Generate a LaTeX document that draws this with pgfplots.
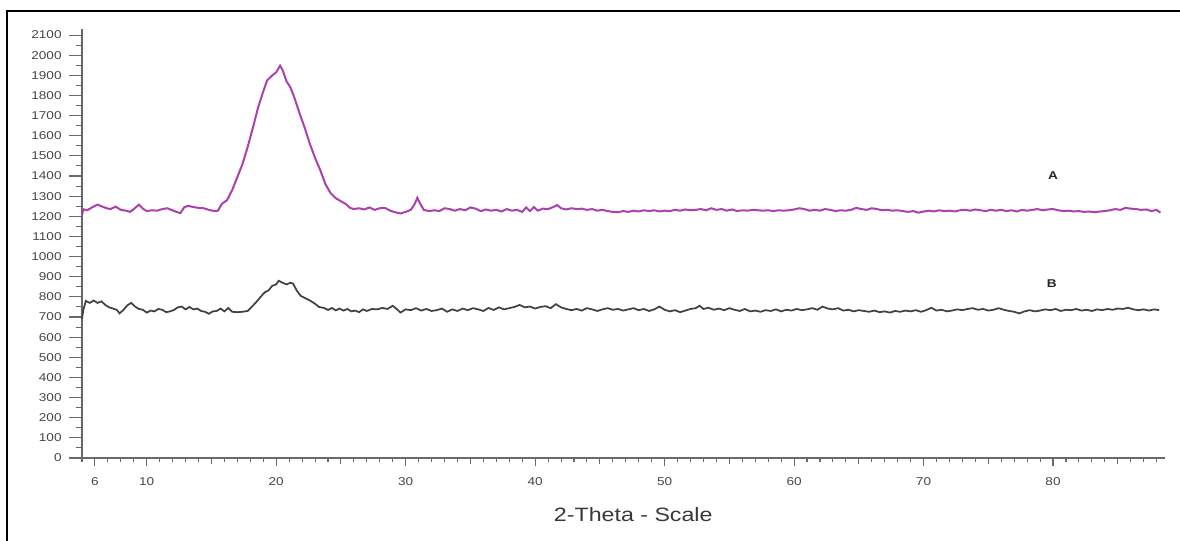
\documentclass[border=0pt]{standalone}
\usepackage{fontspec}
\setmainfont{Liberation Sans}[FakeStretch=1.2]
\usepackage{pgfplots}
\pgfplotsset{compat=1.18}
\definecolor{curveA}{RGB}{170,65,175}
\definecolor{curveB}{RGB}{65,65,65}
\definecolor{axisgray}{RGB}{105,105,105}
\definecolor{labelgray}{RGB}{70,70,70}
\pgfplotsset{
  xrdbase/.style={
    at={(0,0)}, anchor=south west,
    scale only axis, width=812.25pt, height=321.75pt,
    xmin=5, xmax=88.65, ymin=0, ymax=2130,
    axis line style={axisgray, line width=0.9pt},
    every tick/.style={axisgray, line width=0.8pt},
    xtick align=outside, ytick align=outside,
    /pgf/number format/assume math mode=true,
    /pgf/number format/1000 sep={},
    tick label style={font=\fontsize{8.5}{10}\selectfont, text=labelgray},
    clip=false,
  }
}
\begin{document}
\begin{tikzpicture}
% whole image: 1180x540 px at 0.75pt per px, axis origin at px (82,458)
\useasboundingbox (-61.5pt,-61.5pt) rectangle (823.5pt,343.5pt);
\draw[line width=1.5pt] (-56.25pt,-62pt) -- (-56.25pt,335.25pt) -- (824pt,335.25pt);
% y axis with its own tick lengths
\begin{axis}[
  xrdbase,
  axis x line=none, axis y line*=left,
  ytick={0,100,...,2100},
  minor y tick num=1,
  major tick length=9.75pt, minor tick length=4.5pt,
  yticklabel style={xshift=-2pt},
]
\end{axis}
\begin{axis}[
  xrdbase,
  axis x line*=bottom, axis y line=none,
  xtick={6,10,20,30,40,50,60,70,80},
  extra x ticks={15,25,35,45,55,65,75,85},
  extra x tick labels={},
  extra x tick style={major tick length=4.5pt, xtick align=outside},
  minor xtick={5,7,8,9,11,12,13,14,16,17,18,19,21,22,23,24,26,27,28,29,31,32,33,34,36,37,38,39,41,42,43,44,46,47,48,49,51,52,53,54,56,57,58,59,61,62,63,64,66,67,68,69,71,72,73,74,76,77,78,79,81,82,83,84,86,87,88},
  major tick length=6pt, minor tick length=3pt,
  xticklabel style={yshift=-5pt},
  xlabel={2-Theta - Scale},
  xlabel style={at={(axis description cs:0.509,0)}, anchor=center, yshift=-42.75pt,
    font=\fontsize{14.5}{16}\selectfont, text=labelgray!80!black},
]
\addplot[curveA, line width=1.5pt] coordinates {
(5.0,1205)(5.1,1235)(5.4,1230)(5.8,1245)(6.2,1258)(6.5,1250)(6.9,1240)(7.2,1236)(7.6,1248)(8.0,1232)
(8.4,1228)(8.7,1222)(9.0,1236)(9.4,1258)(9.7,1238)(10.0,1226)(10.4,1230)(10.8,1228)(11.2,1236)(11.6,1240)
(11.9,1232)(12.3,1222)(12.6,1216)(12.9,1245)(13.2,1252)(13.6,1246)(14.0,1242)(14.4,1240)(14.8,1232)(15.2,1226)
(15.5,1228)(15.8,1262)(16.2,1280)(16.6,1330)(17.0,1395)(17.4,1460)(17.8,1545)(18.2,1640)(18.6,1740)(19.0,1820)
(19.3,1875)(19.7,1900)(20.0,1915)(20.3,1948)(20.5,1925)(20.8,1870)(21.1,1840)(21.4,1790)(21.8,1712)(22.2,1640)
(22.6,1560)(23.0,1490)(23.4,1430)(23.8,1360)(24.2,1315)(24.6,1290)(25.0,1275)(25.4,1260)(25.7,1242)(26.0,1236)
(26.4,1240)(26.8,1234)(27.2,1244)(27.6,1232)(28.0,1240)(28.4,1242)(28.8,1228)(29.2,1220)(29.6,1214)(30.0,1222)
(30.4,1232)(30.7,1262)(30.9,1292)(31.1,1265)(31.4,1232)(31.8,1226)(32.2,1230)(32.6,1226)(33.0,1240)(33.4,1236)
(33.8,1228)(34.2,1236)(34.6,1230)(35.0,1244)(35.4,1238)(35.8,1226)(36.2,1234)(36.6,1228)(37.0,1232)(37.4,1224)
(37.8,1236)(38.2,1228)(38.6,1232)(39.0,1222)(39.3,1244)(39.6,1226)(39.9,1246)(40.2,1228)(40.6,1238)(41.0,1236)
(41.4,1246)(41.7,1256)(42.0,1240)(42.4,1234)(42.8,1240)(43.2,1236)(43.6,1238)(44.0,1232)(44.4,1236)(44.8,1228)
(45.2,1232)(45.6,1226)(46.0,1222)(46.4,1220)(46.8,1226)(47.2,1222)(47.6,1228)(48.0,1224)(48.4,1230)(48.8,1226)
(49.2,1230)(49.6,1224)(50.0,1228)(50.4,1226)(50.8,1232)(51.2,1228)(51.6,1234)(52.0,1230)(52.4,1232)(52.8,1236)
(53.2,1230)(53.6,1240)(54.0,1232)(54.4,1236)(54.8,1228)(55.2,1234)(55.6,1226)(56.0,1230)(56.4,1228)(56.8,1232)
(57.2,1230)(57.6,1228)(58.0,1230)(58.4,1226)(58.8,1230)(59.2,1228)(59.6,1230)(60.0,1234)(60.4,1240)(60.8,1236)
(61.2,1228)(61.6,1232)(62.0,1228)(62.4,1236)(62.8,1232)(63.2,1226)(63.6,1230)(64.0,1228)(64.4,1232)(64.8,1242)
(65.2,1236)(65.6,1232)(66.0,1240)(66.4,1236)(66.8,1230)(67.2,1232)(67.6,1228)(68.0,1230)(68.4,1226)(68.8,1222)
(69.2,1226)(69.6,1218)(70.0,1224)(70.4,1228)(70.8,1224)(71.2,1230)(71.6,1226)(72.0,1228)(72.4,1224)(72.8,1230)
(73.2,1232)(73.6,1228)(74.0,1234)(74.4,1230)(74.8,1226)(75.2,1232)(75.6,1228)(76.0,1232)(76.4,1226)(76.8,1230)
(77.2,1224)(77.6,1232)(78.0,1228)(78.4,1232)(78.8,1236)(79.2,1230)(79.6,1234)(80.0,1236)(80.4,1230)(80.8,1226)
(81.2,1228)(81.6,1224)(82.0,1226)(82.4,1222)(82.8,1224)(83.2,1220)(83.6,1224)(84.0,1226)(84.4,1230)(84.8,1236)
(85.2,1232)(85.6,1242)(86.0,1238)(86.4,1236)(86.8,1232)(87.2,1234)(87.6,1226)(88.0,1232)(88.3,1218)
};
\addplot[curveB, line width=1.3pt] coordinates {
(5.0,690)(5.1,735)(5.3,780)(5.6,770)(5.9,782)(6.2,770)(6.5,778)(6.8,760)(7.1,748)(7.4,742)
(7.7,735)(7.9,718)(8.2,735)(8.5,758)(8.8,770)(9.1,752)(9.4,740)(9.7,736)(10.0,722)(10.3,732)
(10.6,728)(10.9,740)(11.2,736)(11.5,724)(11.8,728)(12.1,735)(12.4,748)(12.7,752)(13.0,738)(13.3,750)
(13.6,738)(13.9,742)(14.2,730)(14.5,726)(14.8,716)(15.1,728)(15.4,730)(15.7,742)(16.0,728)(16.3,745)
(16.6,726)(17.0,724)(17.4,726)(17.8,730)(18.1,750)(18.4,770)(18.8,800)(19.1,822)(19.4,832)(19.7,855)
(20.0,862)(20.2,880)(20.5,870)(20.8,862)(21.1,870)(21.3,866)(21.6,830)(21.9,805)(22.2,795)(22.6,782)
(23.0,766)(23.3,750)(23.7,745)(24.0,735)(24.3,745)(24.6,733)(24.9,742)(25.2,732)(25.5,740)(25.8,728)
(26.1,732)(26.4,724)(26.7,738)(27.0,730)(27.4,740)(27.8,738)(28.2,745)(28.6,740)(29.0,756)(29.3,740)
(29.6,722)(30.0,738)(30.4,734)(30.8,744)(31.2,732)(31.6,740)(32.0,730)(32.4,734)(32.8,742)(33.2,726)
(33.6,738)(34.0,730)(34.4,742)(34.8,734)(35.2,744)(35.6,738)(36.0,730)(36.4,745)(36.8,735)(37.2,748)
(37.6,738)(38.0,744)(38.4,750)(38.8,760)(39.2,748)(39.6,752)(40.0,742)(40.4,750)(40.8,754)(41.2,744)
(41.6,764)(42.0,748)(42.4,740)(42.8,734)(43.2,740)(43.6,732)(44.0,744)(44.4,738)(44.8,730)(45.2,738)
(45.6,744)(46.0,736)(46.4,740)(46.8,732)(47.2,738)(47.6,744)(48.0,734)(48.4,740)(48.8,730)(49.2,738)
(49.6,752)(50.0,736)(50.4,728)(50.8,734)(51.2,724)(51.6,732)(52.0,740)(52.4,744)(52.7,756)(53.0,740)
(53.4,746)(53.8,736)(54.2,742)(54.6,734)(55.0,744)(55.4,736)(55.8,730)(56.2,740)(56.6,728)(57.0,732)
(57.4,726)(57.8,734)(58.2,730)(58.6,738)(59.0,728)(59.4,736)(59.8,732)(60.2,740)(60.6,734)(61.0,738)
(61.4,744)(61.8,736)(62.2,752)(62.6,742)(63.0,738)(63.4,744)(63.8,732)(64.2,736)(64.6,728)(65.0,734)
(65.4,730)(65.8,726)(66.2,732)(66.6,724)(67.0,728)(67.4,722)(67.8,730)(68.2,726)(68.6,732)(69.0,728)
(69.4,734)(69.8,726)(70.2,734)(70.6,746)(71.0,732)(71.4,736)(71.8,728)(72.2,732)(72.6,738)(73.0,734)
(73.4,740)(73.8,744)(74.2,736)(74.6,740)(75.0,732)(75.4,736)(75.8,744)(76.2,736)(76.6,730)(77.0,726)
(77.4,718)(77.8,728)(78.2,734)(78.6,728)(79.0,732)(79.4,738)(79.8,734)(80.2,740)(80.6,730)(81.0,736)
(81.4,734)(81.8,740)(82.2,732)(82.6,736)(83.0,730)(83.4,738)(83.8,734)(84.2,740)(84.6,736)(85.0,742)
(85.4,740)(85.8,746)(86.2,738)(86.6,734)(87.0,738)(87.4,732)(87.8,738)(88.2,734)
};
\node[font=\fontsize{8.5}{10}\selectfont\bfseries, text=black!85] at (axis cs:80,1400) {A};
\node[font=\fontsize{8.5}{10}\selectfont\bfseries, text=black!85] at (axis cs:79.9,864) {B};
\end{axis}
\end{tikzpicture}
\end{document}
